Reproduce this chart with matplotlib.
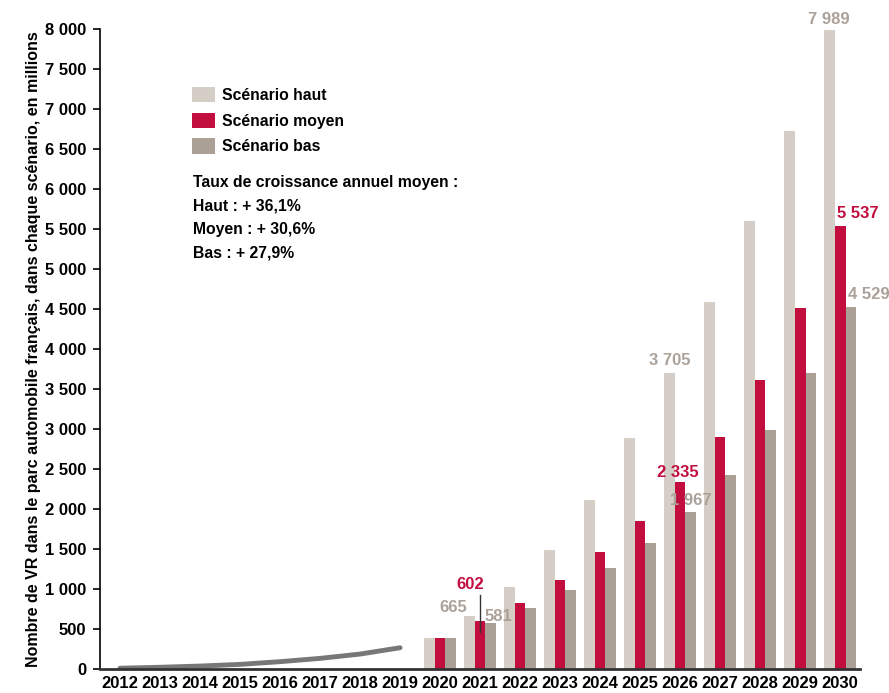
import matplotlib
matplotlib.use('Agg')
import matplotlib.pyplot as plt
import matplotlib.ticker as ticker
import numpy as np

plt.rcParams['font.family'] = ['Liberation Sans', 'DejaVu Sans']
plt.rcParams['font.weight'] = 'bold'

years = [str(y) for y in range(2012, 2031)]
hist_years = years[:8]
hist_vals = [10, 22, 37, 58, 92, 133, 187, 266]

proj_years = years[8:]
haut = [385, 665, 1029, 1491, 2108, 2883, 3705, 4587, 5600, 6725, 7989]
moyen = [385, 602, 821, 1112, 1462, 1846, 2335, 2900, 3617, 4516, 5537]
bas = [385, 581, 758, 987, 1258, 1579, 1967, 2421, 2988, 3704, 4529]

c_haut = '#D5CEC6'
c_moyen = '#C20E3E'
c_bas = '#ABA096'
c_lab = '#ACA198'

fig = plt.figure(figsize=(8.89, 6.93), dpi=100)
ax = fig.add_axes([0.1125, 0.0346, 0.855, 0.9235])

x_all = np.arange(len(years))
xp = x_all[8:]
w = 0.27

b1 = ax.bar(xp - w, haut, w, color=c_haut, label='Scénario haut')
b2 = ax.bar(xp, moyen, w, color=c_moyen, label='Scénario moyen')
b3 = ax.bar(xp + w, bas, w, color=c_bas, label='Scénario bas')

ax.plot(x_all[:8], hist_vals, color='#777777', linewidth=3.5, solid_capstyle='round')

ax.set_xlim(-0.5, len(years) - 0.5)
ax.set_ylim(0, 8000)
ax.set_xticks(x_all)
ax.set_xticklabels(years)
ax.set_yticks(np.arange(0, 8001, 500))
ax.yaxis.set_major_formatter(ticker.FuncFormatter(lambda v, p: f'{int(v):,}'.replace(',', ' ')))

ax.spines['top'].set_visible(False)
ax.spines['right'].set_visible(False)
ax.spines['left'].set_linewidth(1.2)
ax.spines['bottom'].set_linewidth(2)
ax.spines['bottom'].set_color('#333333')
ax.tick_params(axis='x', length=0, labelsize=12, pad=5)
ax.tick_params(axis='y', length=5, width=1.2, labelsize=12, pad=5)

ax.set_ylabel('Nombre de VR dans le parc automobile français, dans chaque scénario, en millions',
              fontsize=11.5, fontweight='bold', labelpad=3)

# data labels
fs = 12
i21 = 1
ax.text(xp[i21] - w - 0.05, haut[i21] + 110, '665', color=c_lab, fontsize=fs, ha='right', va='center')
ax.text(xp[i21] - 0.25, moyen[i21] + 450, '602', color=c_moyen, fontsize=fs, ha='center', va='center')
ax.plot([xp[i21], xp[i21]], [moyen[i21] + 320, moyen[i21] - 140], color='#333333', linewidth=1)
ax.text(xp[i21] + 0.1, bas[i21] + 80, '581', color=c_lab, fontsize=fs, ha='left', va='center')

i26 = 6
ax.text(xp[i26] - w, haut[i26] + 60, '3 705', color=c_lab, fontsize=fs, ha='center', va='bottom')
ax.text(xp[i26] - 0.05, moyen[i26] + 30, '2 335', color=c_moyen, fontsize=fs, ha='center', va='bottom')
ax.text(xp[i26] + 0.28, bas[i26] + 40, '1 967', color=c_lab, fontsize=fs, ha='center', va='bottom')

i30 = 10
ax.text(xp[i30] - w, haut[i30] + 40, '7 989', color=c_lab, fontsize=fs, ha='center', va='bottom')
ax.text(xp[i30] + 0.45, moyen[i30] + 60, '5 537', color=c_moyen, fontsize=fs, ha='center', va='bottom')
ax.text(xp[i30] + 0.72, bas[i30] + 60, '4 529', color=c_lab, fontsize=fs, ha='center', va='bottom', clip_on=False)

ax.legend(handles=[b1, b2, b3], loc='upper left', bbox_to_anchor=(0.103, 0.932), frameon=False,
          fontsize=11.3, handlelength=1.45, handleheight=1.15, labelspacing=0.62, handletextpad=0.45)

ax.text(0.1225, 0.772, 'Taux de croissance annuel moyen :\nHaut : + 36,1%\nMoyen : + 30,6%\nBas : + 27,9%',
        transform=ax.transAxes, fontsize=11.3, ha='left', va='top', linespacing=1.7)

fig.savefig('out.png', dpi=100)
